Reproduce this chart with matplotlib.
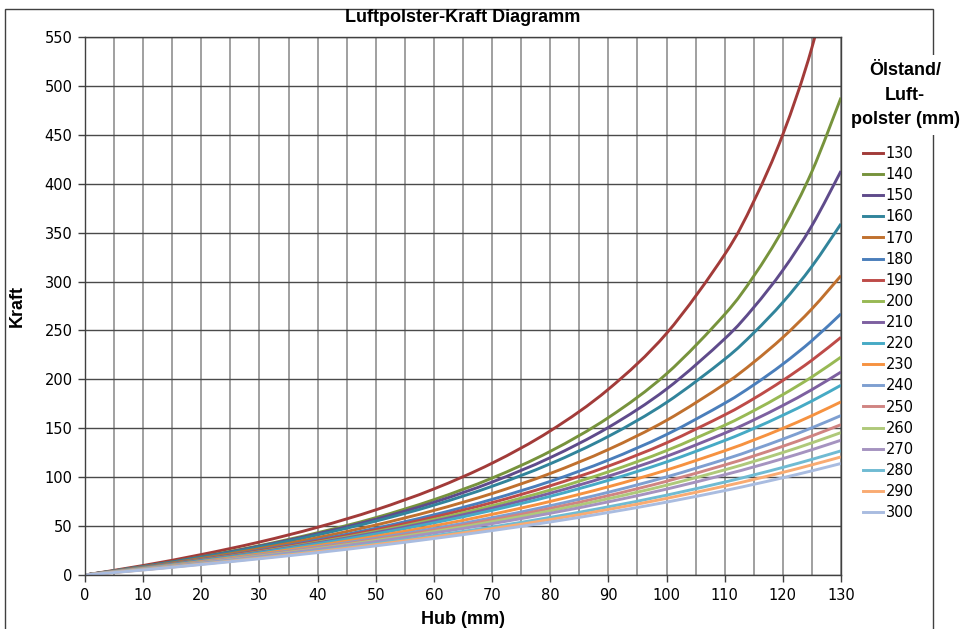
import matplotlib
matplotlib.use("Agg")
import matplotlib.pyplot as plt
from matplotlib.patches import Rectangle, PathPatch
from matplotlib.path import Path
from matplotlib.lines import Line2D

# stroke (mm) and force values
hub = [0, 10, 20, 30, 40, 50, 60, 70, 80, 90, 100, 110, 115, 120, 125, 130]

f130 = [0, 9.7, 20.9, 33.7, 48.8, 66.6, 88.0, 114.3, 147.3, 189.9, 247.0, 327.7, 382.0, 450.4, 539.2, 659.1]
f140 = [0, 8.7, 18.7, 30.0, 43.2, 58.6, 77.0, 99.1, 126.4, 160.9, 205.7, 266.4, 305.6, 353.3, 412.5, 488.0]
f150 = [0, 8.6, 18.4, 29.4, 42.2, 57.0, 74.3, 95.0, 120.0, 150.9, 190.1, 241.5, 273.6, 311.6, 357.2, 413.0]
f160 = [0, 8.5, 18.0, 28.7, 41.0, 55.1, 71.4, 90.7, 113.7, 141.7, 176.4, 220.6, 247.6, 278.8, 315.5, 359.0]
f170 = [0, 8.0, 16.9, 26.9, 38.2, 51.1, 66.0, 83.3, 103.8, 128.3, 158.1, 195.3, 217.6, 242.9, 272.1, 306.0]
f180 = [0, 7.6, 15.9, 25.3, 35.9, 47.8, 61.5, 77.3, 95.7, 117.5, 143.6, 175.6, 194.4, 215.6, 239.6, 267.0]
f190 = [0, 7.4, 15.5, 24.6, 34.7, 46.2, 59.2, 74.0, 91.2, 111.3, 135.1, 163.7, 180.3, 198.9, 219.6, 243.0]
f200 = [0, 7.2, 15.1, 23.8, 33.6, 44.5, 56.8, 70.8, 86.9, 105.5, 127.2, 153.1, 168.0, 184.4, 202.5, 222.8]
f210 = [0, 7.0, 14.8, 23.3, 32.8, 43.3, 55.1, 68.4, 83.6, 101.0, 121.3, 145.0, 158.5, 173.3, 189.5, 207.5]
f220 = [0, 6.9, 14.4, 22.7, 31.9, 42.0, 53.3, 66.1, 80.4, 96.8, 115.6, 137.5, 149.8, 163.3, 177.9, 194.0]
f230 = [0, 6.6, 13.7, 21.5, 30.1, 39.6, 50.2, 62.0, 75.2, 90.2, 107.3, 127.0, 138.0, 149.9, 162.9, 177.0]
f240 = [0, 6.3, 13.1, 20.5, 28.7, 37.6, 47.5, 58.5, 70.8, 84.6, 100.3, 118.2, 128.2, 138.9, 150.5, 163.0]
f250 = [0, 6.1, 12.7, 19.9, 27.8, 36.4, 45.9, 56.4, 68.1, 81.1, 95.8, 112.5, 121.7, 131.6, 142.2, 153.7]
f260 = [0, 6.0, 12.4, 19.4, 27.0, 35.3, 44.4, 54.5, 65.6, 78.0, 91.8, 107.5, 116.1, 125.2, 135.1, 145.6]
f270 = [0, 5.8, 12.1, 18.8, 26.2, 34.2, 42.9, 52.5, 63.1, 74.8, 87.8, 102.5, 110.5, 119.0, 128.1, 137.8]
f280 = [0, 5.5, 11.4, 17.7, 24.6, 32.1, 40.2, 49.1, 58.9, 69.7, 81.6, 95.0, 102.3, 110.0, 118.2, 126.9]
f290 = [0, 5.3, 11.1, 17.2, 23.9, 31.1, 38.9, 47.4, 56.7, 67.0, 78.3, 90.9, 97.7, 104.9, 112.6, 120.7]
f300 = [0, 5.1, 10.7, 16.6, 22.9, 29.8, 37.3, 45.4, 54.2, 63.9, 74.5, 86.3, 92.7, 99.4, 106.5, 114.0]

labels = ["130", "140", "150", "160", "170", "180", "190", "200", "210",
          "220", "230", "240", "250", "260", "270", "280", "290", "300"]
series = [f130, f140, f150, f160, f170, f180, f190, f200, f210,
          f220, f230, f240, f250, f260, f270, f280, f290, f300]
colors = ["#A23B39", "#77933C", "#5F4B8B", "#31849B", "#C0702E", "#4A7EBB",
          "#BE4B48", "#98B954", "#7D60A0", "#46AAC5", "#F69240", "#7E9FD1",
          "#D08482", "#AFC97A", "#A593C0", "#6FBBD3", "#F9AB72", "#A9BCE0"]


def smooth_path(xs, ys):
    # Excel-like "smoothed line": bezier segments through the data points
    pts = list(zip(xs, ys))
    verts = [pts[0]]
    codes = [Path.MOVETO]
    n = len(pts)
    for i in range(n - 1):
        p0 = pts[max(i - 1, 0)]
        p1 = pts[i]
        p2 = pts[i + 1]
        p3 = pts[min(i + 2, n - 1)]
        c1 = (p1[0] + (p2[0] - p0[0]) / 6, p1[1] + (p2[1] - p0[1]) / 6)
        c2 = (p2[0] - (p3[0] - p1[0]) / 6, p2[1] - (p3[1] - p1[1]) / 6)
        verts += [c1, c2, p2]
        codes += [Path.CURVE4] * 3
    return Path(verts, codes)


fig = plt.figure(figsize=(9.71, 6.29), dpi=100)
ax = fig.add_axes([85 / 971, 1 - 575 / 629, (841 - 85) / 971, (575 - 37) / 629])

handles = []
for vals, lab, col in zip(series, labels, colors):
    ax.add_patch(PathPatch(smooth_path(hub, vals), facecolor="none", edgecolor=col,
                           lw=2.1, capstyle="butt"))
    handles.append(Line2D([], [], color=col, lw=2.1, label=lab))

ax.set_xlim(0, 130)
ax.set_ylim(0, 550)
ax.set_xticks(range(0, 131, 10))
ax.set_xticks(range(5, 131, 10), minor=True)
ax.set_yticks(range(0, 551, 50))
ax.tick_params(axis="x", which="minor", length=0)
ax.tick_params(axis="both", which="major", direction="out", length=5,
               width=1, color="#404040", labelsize=10.5, pad=4)
ax.grid(axis="x", which="both", color="#a0a0a0", lw=1.4)
ax.grid(axis="y", which="major", color="#4a4a4a", lw=1.0)
ax.set_axisbelow(True)
for sp in ax.spines.values():
    sp.set_color("#404040")
    sp.set_linewidth(1.0)

bold = dict(family="Liberation Sans", weight="bold")
fig.text(463 / 971, 1 - 17 / 629, "Luftpolster-Kraft Diagramm", ha="center", va="center",
         fontsize=13, **bold)
fig.text(17 / 971, 1 - 306 / 629, "Kraft", rotation=90, ha="center", va="center",
         fontsize=13, **bold)
fig.text(463 / 971, 1 - 619 / 629, "Hub (mm)", ha="center", va="center",
         fontsize=13, **bold)

# outer chart frame
fig.patches.append(Rectangle((5 / 971, -0.02), (933 - 5) / 971, 1.02 - 9 / 629,
                             transform=fig.transFigure, fill=False,
                             edgecolor="#404040", lw=1.0))

fig.text(905 / 971, 1 - 95 / 629, "Ölstand/\nLuft-\npolster (mm)", ha="center", va="center",
         fontsize=13, linespacing=1.55, bbox=dict(facecolor="white", edgecolor="none", pad=5),
         **bold)

leg = fig.legend(handles=handles, loc="upper left", bbox_to_anchor=(863 / 971, 1 - 146 / 629),
                 frameon=False, fontsize=10.5, handlelength=1.4, handletextpad=0.15,
                 labelspacing=0.42, borderpad=0, borderaxespad=0)

fig.savefig("out.png", dpi=100)
